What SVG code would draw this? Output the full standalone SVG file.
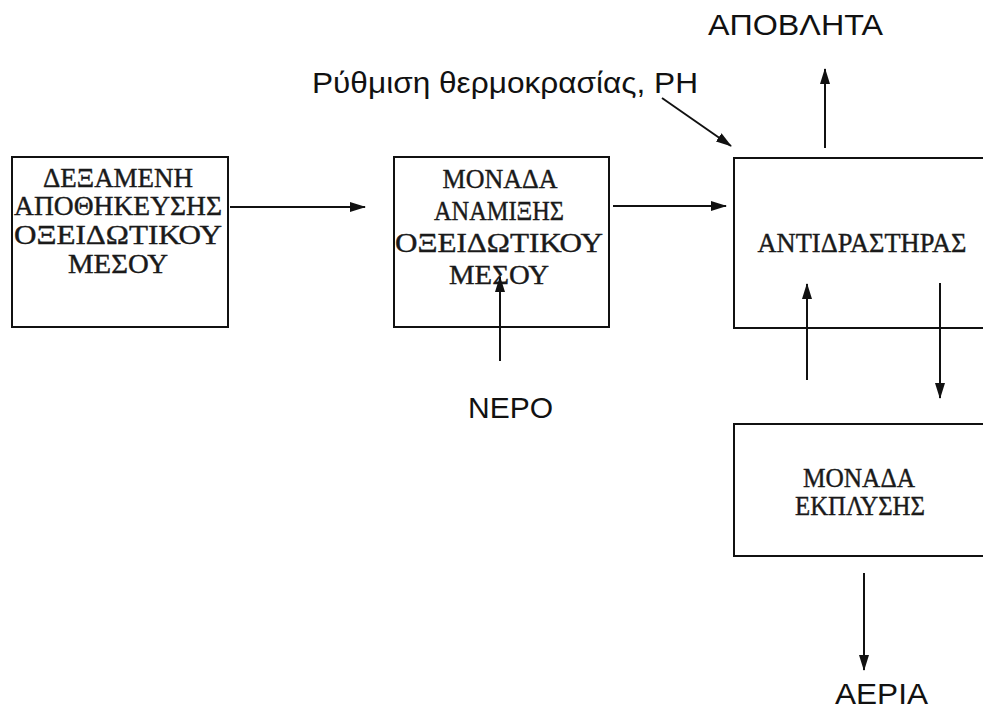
<svg xmlns="http://www.w3.org/2000/svg" width="983" height="710" viewBox="0 0 983 710">
<style>
.box{fill:#fff;stroke:#111;stroke-width:2}
.serif{font-family:"Liberation Serif","Times New Roman",serif;font-size:27px;fill:#1a1a1a;stroke:#1a1a1a;stroke-width:0.4;text-anchor:middle}
.sans{font-family:"Liberation Sans",Arial,sans-serif;font-size:30px;fill:#111}
.ln{stroke:#111;stroke-width:2;fill:none;marker-end:url(#ah)}
</style>
<defs>
<marker id="ah" viewBox="0 0 16 10" refX="15" refY="5" markerWidth="16" markerHeight="10" markerUnits="userSpaceOnUse" orient="auto">
<path d="M0,0 L16,5 L0,10 Z" fill="#111"/>
</marker>
</defs>
<rect width="983" height="710" fill="#fff"/>
<g id="tank">
<rect class="box" x="12" y="157" width="216" height="170"/>
<text class="serif" x="118" y="187" textLength="150" lengthAdjust="spacingAndGlyphs">ΔΕΞΑΜΕΝΗ</text>
<text class="serif" x="118" y="215" textLength="208" lengthAdjust="spacingAndGlyphs">ΑΠΟΘΗΚΕΥΣΗΣ</text>
<text class="serif" x="118" y="244" textLength="208" lengthAdjust="spacingAndGlyphs">ΟΞΕΙΔΩΤΙΚΟΥ</text>
<text class="serif" x="118" y="273" textLength="100" lengthAdjust="spacingAndGlyphs">ΜΕΣΟΥ</text>
</g>
<g id="mixer">
<rect class="box" x="394" y="157" width="215" height="170"/>
<text class="serif" x="500" y="188" textLength="115" lengthAdjust="spacingAndGlyphs">ΜΟΝΑΔΑ</text>
<text class="serif" x="499" y="220" textLength="130" lengthAdjust="spacingAndGlyphs">ΑΝΑΜΙΞΗΣ</text>
<text class="serif" x="499" y="252" textLength="208" lengthAdjust="spacingAndGlyphs">ΟΞΕΙΔΩΤΙΚΟΥ</text>
<text class="serif" x="499" y="284" textLength="100" lengthAdjust="spacingAndGlyphs">ΜΕΣΟΥ</text>
</g>
<g id="reactor">
<rect class="box" x="734" y="158" width="260" height="170"/>
<text class="serif" x="862" y="252" textLength="209" lengthAdjust="spacingAndGlyphs">ΑΝΤΙΔΡΑΣΤΗΡΑΣ</text>
</g>
<g id="scrubber">
<rect class="box" x="734" y="424" width="260" height="132"/>
<text class="serif" x="859" y="487" textLength="112" lengthAdjust="spacingAndGlyphs">ΜΟΝΑΔΑ</text>
<text class="serif" x="860" y="515" textLength="130" lengthAdjust="spacingAndGlyphs">ΕΚΠΛΥΣΗΣ</text>
</g>
<g id="labels">
<text class="sans" x="708" y="35" textLength="175" lengthAdjust="spacingAndGlyphs">ΑΠΟΒΛΗΤΑ</text>
<text class="sans" x="312" y="93" textLength="386" lengthAdjust="spacingAndGlyphs">Ρύθμιση θερμοκρασίας, PH</text>
<text class="sans" x="468" y="418" textLength="85" lengthAdjust="spacingAndGlyphs">ΝΕΡΟ</text>
<text class="sans" x="835" y="704" textLength="93" lengthAdjust="spacingAndGlyphs">ΑΕΡΙΑ</text>
</g>
<g id="connectors">
<line class="ln" x1="230" y1="207" x2="365" y2="207"/>
<line class="ln" x1="613" y1="206" x2="726" y2="206"/>
<line class="ln" x1="500" y1="361" x2="500" y2="277"/>
<line class="ln" x1="662" y1="98" x2="731" y2="146"/>
<line class="ln" x1="825" y1="148" x2="825" y2="69"/>
<line class="ln" x1="807" y1="380" x2="807" y2="284"/>
<line class="ln" x1="940" y1="283" x2="940" y2="398"/>
<line class="ln" x1="864" y1="573" x2="864" y2="670"/>
</g>
</svg>
